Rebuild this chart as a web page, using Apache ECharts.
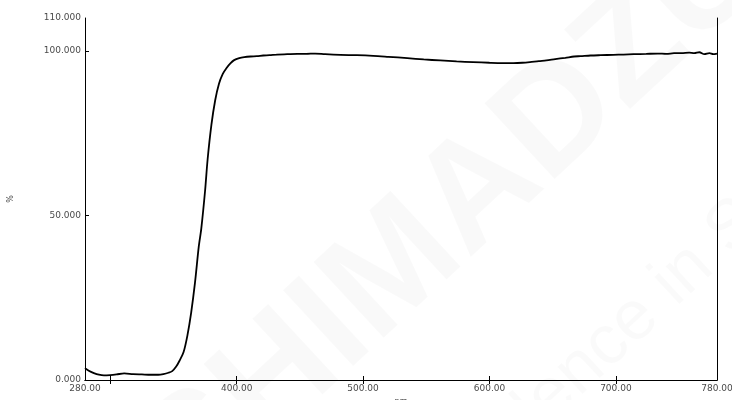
<!DOCTYPE html>
<html>
<head>
<meta charset="utf-8">
<script src="https://cdn.jsdelivr.net/npm/echarts@6/dist/echarts.min.js"></script>
<style>
html,body{margin:0;padding:0;background:#fff;}
#chart{width:732px;height:400px;}
</style>
</head>
<body>
<div id="chart"></div>
<script>
var wavelengths = [280,283,287,291,295,300,305,311,318,325,332,338,342,346,349,352,355,358,361,364,367,370,372,375,377,380,383,386,389,392,395,398,402,406,411,416,421,426,432,440,448,455,462,470,482,495,508,520,535,548,561,574,587,600,610,619,626,632,639,645,652,660,667,672,680,688,698,706,714,724,733,740,746,752,758,762,766,770,774,777,780];
var transmittance = [3.6,2.8,2.1,1.6,1.4,1.5,1.7,2.0,1.8,1.7,1.6,1.6,1.8,2.2,2.7,4.0,6.0,8.5,13.5,20.5,29.5,40.5,46,57.5,67,77.5,85,90,93,94.8,96.2,97.2,97.8,98.1,98.3,98.4,98.6,98.7,98.9,99.0,99.1,99.1,99.2,99.0,98.8,98.7,98.5,98.2,97.8,97.4,97.1,96.8,96.6,96.4,96.3,96.3,96.4,96.6,96.9,97.1,97.5,97.9,98.3,98.4,98.6,98.7,98.8,98.9,99.0,99.1,99.2,99.1,99.3,99.3,99.5,99.3,99.6,99.0,99.3,99.0,99.2];
var xLabelValues = [280,400,500,600,700,780];
var xTickValues = [300,400,500,600,700];
var yLabelValues = [0,50,100,110];
var yTickValues = [50,100];
var xName = 'nm';
var yName = '%';

var data = wavelengths.map(function(w,i){ return [w, transmittance[i]]; });
var labelStyle = {color:'#4a4a4a', fontSize:9, fontFamily:'DejaVu Sans'};
var chart = echarts.init(document.getElementById('chart'), null, {renderer:'canvas'});
chart.setOption({
  animation:false,
  backgroundColor:'#fff',
  graphic:[
    {type:'text', x:455, y:215, rotation:Math.PI/4.2, z:-10, silent:true,
     style:{text:'SHIMADZU', fontSize:150, fontWeight:'bold', fontFamily:'Liberation Sans', fill:'rgba(0,0,0,0.022)', align:'center', verticalAlign:'middle'}},
    {type:'text', x:650, y:305, rotation:Math.PI/4.2, z:-10, silent:true,
     style:{text:'Excellence in Science', fontSize:70, fontFamily:'Liberation Sans', fill:'rgba(0,0,0,0.02)', align:'center', verticalAlign:'middle'}}
  ],
  grid:{left:85, right:15, top:18, bottom:20, containLabel:false, outerBoundsMode:'none'},
  xAxis:[{
    type:'value', min:280, max:780, position:'bottom',
    name:xName, nameLocation:'middle', nameGap:15,
    nameTextStyle:{color:'#4a4a4a', fontSize:8, fontFamily:'DejaVu Sans'},
    axisLine:{show:true, lineStyle:{color:'#000', width:1}},
    axisTick:{show:true, inside:true, length:4, customValues:xTickValues, lineStyle:{color:'#000'}},
    axisLabel:Object.assign({customValues:xLabelValues, margin:4, hideOverlap:false, formatter:function(v){return v.toFixed(2);}}, labelStyle),
    splitLine:{show:false}
  },{
    type:'value', min:280, max:780, position:'top',
    axisLine:{show:true, lineStyle:{color:'#000', width:1}},
    axisTick:{show:true, inside:true, length:4, customValues:xTickValues, lineStyle:{color:'#000'}},
    axisLabel:{show:false}, splitLine:{show:false}
  }],
  yAxis:[{
    type:'value', min:0, max:110, position:'left',
    name:yName, nameLocation:'middle', nameGap:70, nameRotate:90,
    nameTextStyle:{color:'#4a4a4a', fontSize:8, fontFamily:'DejaVu Sans'},
    axisLine:{show:true, lineStyle:{color:'#000', width:1}},
    axisTick:{show:true, inside:true, length:4, customValues:yTickValues, lineStyle:{color:'#000'}},
    axisLabel:Object.assign({customValues:yLabelValues, margin:4, hideOverlap:false, formatter:function(v){return v.toFixed(3);}}, labelStyle),
    splitLine:{show:false}
  },{
    type:'value', min:0, max:110, position:'right',
    axisLine:{show:true, lineStyle:{color:'#000', width:1}},
    axisTick:{show:false}, axisLabel:{show:false}, splitLine:{show:false}
  }],
  series:[{
    type:'line', data:data, showSymbol:false, smooth:0.3,
    lineStyle:{color:'#000', width:1.8}
  }]
});
</script>
</body>
</html>
